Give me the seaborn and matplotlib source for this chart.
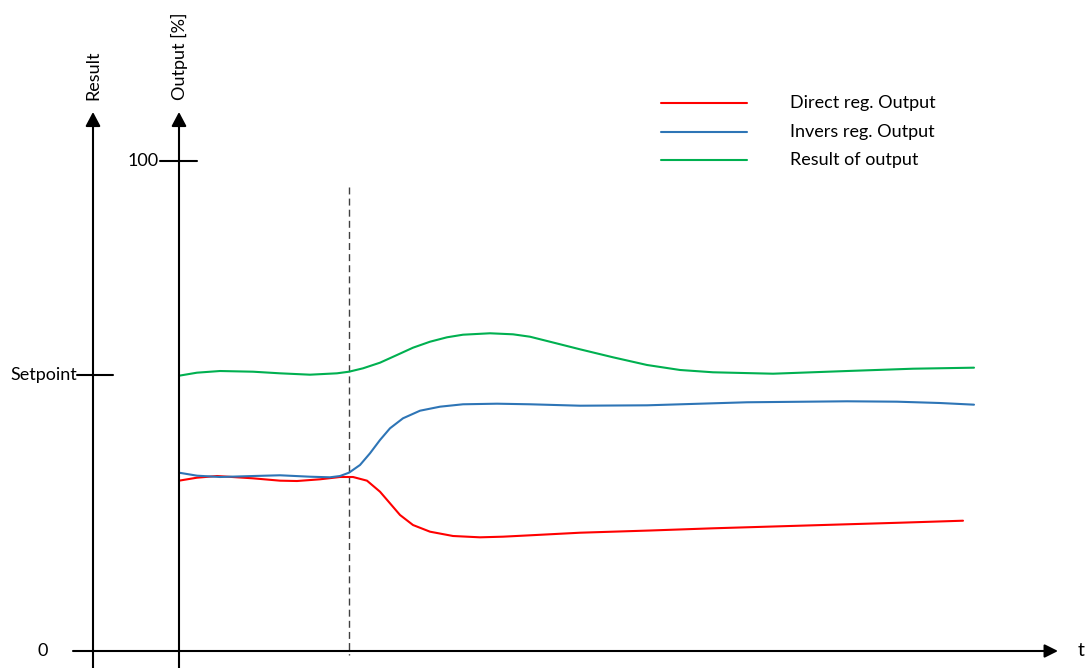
import matplotlib
matplotlib.use("Agg")
import matplotlib.pyplot as plt
import seaborn as sns
import pandas as pd

# ---------------- data (time in arbitrary units, output in %) ----------------
green_t = [0.0, 1.8, 4.1, 7.4, 10.1, 13.1, 15.8, 17.0, 18.4, 20.1, 21.8, 23.4, 25.1,
           26.8, 28.4, 31.1, 33.4, 35.1, 37.6, 40.1, 43.4, 46.8, 50.1, 53.4, 59.4,
           66.8, 73.4, 79.5]
green_v = [56.18, 56.80, 57.14, 57.00, 56.67, 56.39, 56.67, 57.00, 57.69, 58.84, 60.41,
           61.90, 63.12, 64.02, 64.55, 64.84, 64.63, 64.14, 62.86, 61.57, 59.94, 58.37,
           57.35, 56.88, 56.59, 57.14, 57.61, 57.82]

blue_t = [0.0, 1.8, 4.1, 7.4, 10.1, 13.1, 15.1, 16.1, 17.0, 18.1, 19.1, 20.1, 21.1,
          22.4, 24.1, 26.1, 28.4, 31.8, 35.1, 40.1, 46.8, 56.8, 66.8, 71.8, 76.1, 79.5]
blue_v = [36.39, 35.78, 35.51, 35.71, 35.86, 35.57, 35.45, 35.71, 36.39, 37.96, 40.35,
          43.06, 45.45, 47.49, 49.04, 49.86, 50.35, 50.47, 50.35, 50.06, 50.14, 50.76,
          50.96, 50.88, 50.61, 50.27]

red_t = [0.0, 1.8, 3.8, 7.4, 10.1, 11.8, 14.1, 16.1, 17.4, 18.8, 20.1, 21.1, 22.1,
         23.4, 25.1, 27.4, 30.1, 32.4, 35.1, 40.1, 47.1, 53.4, 60.1, 66.8, 72.1, 78.4]
red_v = [34.76, 35.37, 35.71, 35.24, 34.76, 34.69, 35.04, 35.51, 35.51, 34.76, 32.51,
         30.14, 27.76, 25.71, 24.35, 23.47, 23.20, 23.33, 23.61, 24.14, 24.59, 25.04,
         25.45, 25.86, 26.18, 26.59]

series_names = ["Direct reg. Output", "Invers reg. Output", "Result of output"]
series_colors = ["#FF0000", "#2E75B6", "#00B050"]
setpoint_value = 56.4
step_time = 16.95
tick_labels = ["100", "Setpoint", "0"]
axis_labels = ["Result", "Output [%]", "t"]

df = pd.concat([
    pd.DataFrame({"t": red_t, "v": red_v, "s": series_names[0]}),
    pd.DataFrame({"t": blue_t, "v": blue_v, "s": series_names[1]}),
    pd.DataFrame({"t": green_t, "v": green_v, "s": series_names[2]}),
], ignore_index=True)

# ---------------- figure ----------------
sns.set_theme(style="white")
plt.rcParams["font.family"] = ["Lato", "DejaVu Sans"]
plt.rcParams["text.color"] = "black"

W, H = 1087, 668
fig = plt.figure(figsize=(W / 100, H / 100), dpi=100)
ax = fig.add_axes([0, 0, 1, 1])
ax.axis("off")

# pixel -> data helpers (layout only)
def X(px):
    return (px - 179) / 10.0

def Y(py):
    return (651 - py) / 4.9

ax.set_xlim(X(0), X(W))
ax.set_ylim(Y(H), Y(0))

palette = dict(zip(series_names, series_colors))
sns.lineplot(data=df, x="t", y="v", hue="s", palette=palette, estimator=None,
             sort=False, legend=False, lw=1.5, ax=ax, zorder=3,
             solid_joinstyle="round", solid_capstyle="round")

fs = 13
black = "black"
arrow_kw_h = dict(arrowstyle="-|>,head_length=0.8,head_width=0.4", lw=1.5,
                  color=black, shrinkA=0, shrinkB=0, mutation_scale=10)
arrow_kw_v = dict(arrowstyle="-|>,head_length=0.85,head_width=0.45", lw=1.5,
                  color=black, shrinkA=0, shrinkB=0, mutation_scale=10)

# time axis
ax.annotate("", xy=(X(1058), 0), xytext=(X(73), 0), arrowprops=arrow_kw_h)
ax.text(X(1081), 0, axis_labels[2], fontsize=fs + 1, ha="center", va="center")

# Result axis and Output axis
ax.annotate("", xy=(X(93), Y(112)), xytext=(X(93), Y(H + 2)), arrowprops=arrow_kw_v)
ax.annotate("", xy=(0, Y(112)), xytext=(0, Y(H + 2)), arrowprops=arrow_kw_v)
ax.text(X(93), Y(100), axis_labels[0], rotation=90, fontsize=fs, ha="center", va="bottom")
ax.text(X(179.5), Y(100), axis_labels[1], rotation=90, fontsize=fs, ha="center", va="bottom")

# ticks
ax.plot([X(160), X(197)], [100, 100], color=black, lw=1.5)
ax.text(X(159), 100, tick_labels[0], fontsize=fs, ha="right", va="center")
ax.plot([X(77), X(113)], [setpoint_value, setpoint_value], color=black, lw=1.5)
ax.text(X(77), setpoint_value, tick_labels[1], fontsize=fs, ha="right", va="center")
ax.text(X(43), 0, tick_labels[2], fontsize=fs, ha="center", va="center")

# step marker
ax.plot([step_time, step_time], [Y(187), Y(655)], color="#404040", lw=1.0,
        linestyle=(0, (5, 3)), zorder=2)

# legend (manual)
for i, (name, col) in enumerate(zip(series_names, series_colors)):
    yy = Y(103.3 + 28.35 * i)
    ax.plot([X(661), X(747)], [yy, yy], color=col, lw=1.5)
    ax.text(X(790), yy, name, fontsize=fs, ha="left", va="center")

fig.savefig("out.png", dpi=100)
